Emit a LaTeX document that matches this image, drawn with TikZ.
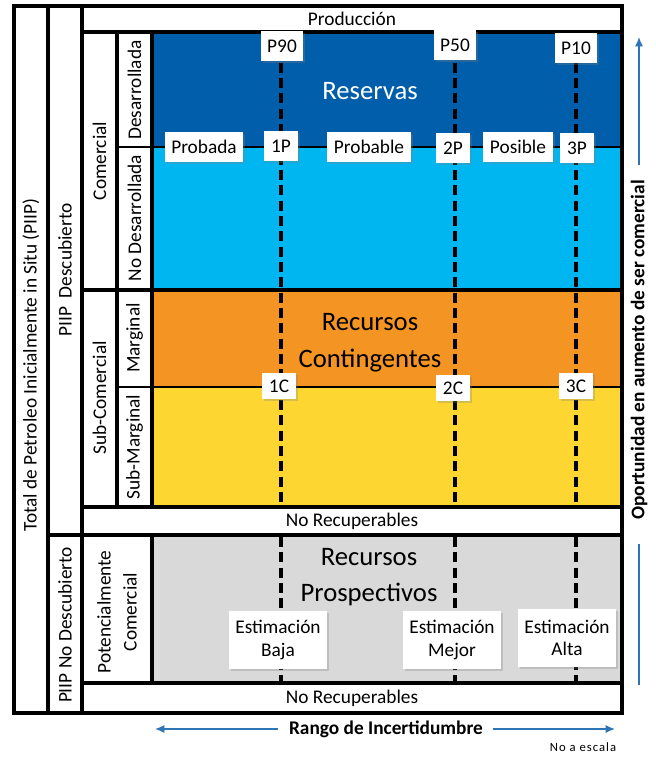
\documentclass[tikz,border=0pt]{standalone}
\usepackage{fontspec}
\setmainfont{Carlito}
\usepackage{tikz}
\usetikzlibrary{positioning}
\usetikzlibrary{shadows}
\usetikzlibrary{arrows.meta}

\definecolor{azulosc}{RGB}{0,94,170}
\definecolor{azulcla}{RGB}{0,182,240}
\definecolor{naranja}{RGB}{244,148,34}
\definecolor{amarillo}{RGB}{253,214,50}
\definecolor{gris}{RGB}{217,217,217}
\definecolor{azulflecha}{RGB}{46,117,182}

\begin{document}
\begin{tikzpicture}[x=0.75pt, y=-0.75pt,
    texto/.style={font=\fontsize{14.5}{17}\selectfont, inner sep=0pt},
    vertical/.style={font=\fontsize{14.5}{19.5}\selectfont, inner sep=0pt, rotate=90, align=center},
    negrita/.style={font=\bfseries\fontsize{14.5}{17}\selectfont, inner sep=0pt},
    grande/.style={font=\fontsize{20}{27.5}\selectfont, align=center, inner sep=0pt},
    etiqueta/.style={font=\fontsize{14.5}{17}\selectfont, fill=white, inner xsep=5pt, inner ysep=0pt,
        minimum height=22.5pt, minimum width=26pt,
        drop shadow={opacity=0.3, shadow xshift=1.5pt, shadow yshift=-1.5pt}},
    etiquetac/.style={etiqueta, minimum height=19.5pt},
    estimacion/.style={etiqueta, align=center, font=\fontsize{14.5}{16.7}\selectfont,
        minimum width=72pt, minimum height=43.5pt},
    grueso/.style={line width=2.3pt},
    fino/.style={line width=1.1pt},
    guia/.style={line width=2.4pt, dash pattern=on 7.5pt off 4pt},
    flechaazul/.style={draw=azulflecha, line width=1pt, -{Latex[length=7pt,width=6pt]}},
    lineaazul/.style={draw=azulflecha, line width=1pt}]

    \useasboundingbox (0,0) rectangle (656,758);

    % Fondos
    \fill[azulosc] (152,32) rectangle (622,147);
    \fill[azulcla] (152,147) rectangle (622,290);
    \fill[naranja] (152,290) rectangle (622,387);
    \fill[amarillo] (152,387) rectangle (622,507);
    \fill[gris] (152,535) rectangle (622,683);

    % Guias de incertidumbre
    \coordinate (g1a) at (281,32);
    \coordinate (g1b) at (281,507);
    \coordinate (g1c) at (281,537);
    \coordinate (g1d) at (281,683);
    \coordinate (g2a) at (455,32);
    \coordinate (g2b) at (455,507);
    \coordinate (g2c) at (455,537);
    \coordinate (g2d) at (455,683);
    \coordinate (g3a) at (576,32);
    \coordinate (g3b) at (576,507);
    \coordinate (g3c) at (576,537);
    \coordinate (g3d) at (576,683);
    \draw[guia] (g1a) -- (g1b);
    \draw[guia] (g1c) -- (g1d);
    \draw[guia] (g2a) -- (g2b);
    \draw[guia] (g2c) -- (g2d);
    \draw[guia] (g3a) -- (g3b);
    \draw[guia] (g3c) -- (g3d);

    % Cuadricula
    \draw[fino] (117,147) -- (622,147);
    \draw[fino] (117,387) -- (622,387);
    \draw[grueso] (82,32) -- (622,32);
    \draw[grueso] (82,290) -- (622,290);
    \draw[grueso] (82,507) -- (622,507);
    \draw[grueso] (48,535) -- (622,535);
    \draw[grueso] (82,683) -- (622,683);
    \draw[grueso] (48,6) -- (48,713);
    \draw[grueso] (82,6) -- (82,713);
    \draw[grueso] (117,32) -- (117,507);
    \draw[grueso] (152,32) -- (152,507);
    \draw[grueso] (152,535) -- (152,683);
    \draw[grueso] (14,6) rectangle (622,713);

    % Textos de filas y columnas
    \node[texto] (produccion) at (352,19) {Producción};
    \node[texto] (norec1) at (352,521) {No Recuperables};
    \node[texto] (norec2) at (352,698) {No Recuperables};
    \node[vertical] (total) at (31,365) {Total de Petroleo Inicialmente in Situ (PIIP)};
    \node[vertical] (descubierto) at (65,270) {PIIP\ \ Descubierto};
    \node[vertical] (nodescubierto) at (65,625) {PIIP No Descubierto};
    \node[vertical] (comercial) at (99.5,161) {Comercial};
    \node[vertical] (subcomercial) at (99.5,398) {Sub-Comercial};
    \node[vertical] (desarrollada) at (134.5,90) {Desarrollada};
    \node[vertical] (nodesarrollada) at (134.5,218) {No Desarrollada};
    \node[vertical] (marginal) at (134.5,338) {Marginal};
    \node[vertical] (submarginal) at (134.5,447) {Sub-Marginal};
    \node[vertical] (potencial) at (117,612) {Potencialmente\\Comercial};

    % Categorias
    \node[grande, text=white] (reservas) at (370,91) {Reservas};
    \node[grande] (contingentes) at (370,343) {Recursos\\Contingentes};
    \node[grande] (prospectivos) at (369,577) {Recursos\\Prospectivos};

    % Etiquetas
    \node[etiqueta] (p90) at (282,46) {P90};
    \node[etiqueta] (p50) at (455,45) {P50};
    \node[etiqueta] (p10) at (576,48) {P10};
    \node[etiqueta] (probada) at (204,147) {Probada};
    \node[etiqueta] (1p) at (281,146) {1P};
    \node[etiqueta] (probable) at (369,147) {Probable};
    \node[etiqueta] (2p) at (453,148) {2P};
    \node[etiqueta] (posible) at (518,147) {Posible};
    \node[etiqueta] (3p) at (577,148) {3P};
    \node[etiquetac] (1c) at (279,386) {1C};
    \node[etiquetac] (2c) at (453,388) {2C};
    \node[etiquetac] (3c) at (576,386) {3C};
    \node[estimacion] (baja) at (278,640) {Estimación\\Baja};
    \node[estimacion] (mejor) at (452,640) {Estimación\\Mejor};
    \node[estimacion] (alta) at (567,638) {Estimación\\Alta};

    % Ejes
    \node[negrita, rotate=90] (oportunidad) at (639,350) {Oportunidad en aumento de ser comercial};
    \coordinate (oparriba) at (639,37);
    \coordinate (opabajo) at (639,685);
    \draw[flechaazul, shorten <=11pt] (oportunidad.east) -- (oparriba);
    \draw[lineaazul, shorten >=18pt] (opabajo) -- (oportunidad.west);

    \node[negrita] (rango) at (386,729) {Rango de Incertidumbre};
    \coordinate (rizq) at (155,729);
    \coordinate (rder) at (615,729);
    \draw[flechaazul, shorten <=8pt] (rango.west) -- (rizq);
    \draw[flechaazul, shorten <=7pt] (rango.east) -- (rder);

    \node[font=\fontsize{9.5}{11}\selectfont\addfontfeatures{LetterSpace=8}, inner sep=0pt] (escala) at (583,747) {No a escala};
  \end{tikzpicture}
\end{document}
